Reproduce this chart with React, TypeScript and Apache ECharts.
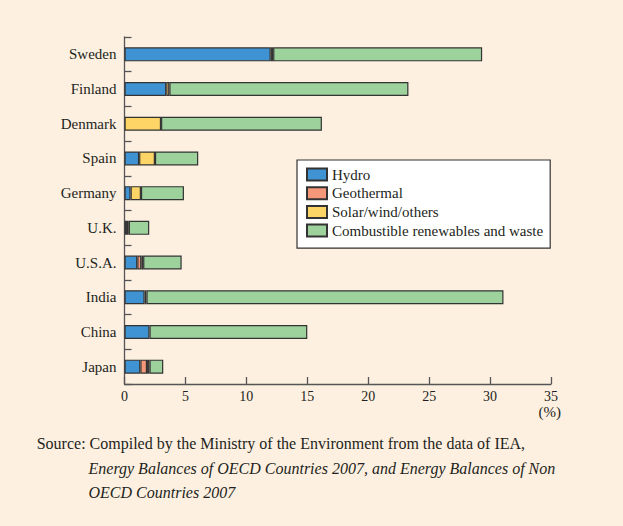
import React, { useEffect, useRef } from "react";
import * as echarts from "echarts";

const categories = ["Sweden", "Finland", "Denmark", "Spain", "Germany", "U.K.", "U.S.A.", "India", "China", "Japan"];
const hydro = [12.0, 3.43, 0, 1.2, 0.5, 0.2, 1.05, 1.65, 2.05, 1.3];
const geothermal = [0, 0, 0, 0, 0, 0, 0.33, 0, 0, 0.55];
const solarWind = [0.2, 0.25, 3.0, 1.3, 0.85, 0.15, 0.15, 0.15, 0, 0.2];
const combustible = [17.15, 19.62, 13.2, 3.55, 3.53, 1.68, 3.16, 29.3, 12.95, 1.13];
const seriesNames = ["Hydro", "Geothermal", "Solar/wind/others", "Combustible renewables and waste"];
const xTicks = { min: 0, max: 35, interval: 5 };
const unitLabel = "(%)";
const sourceLines = [
  "Source: Compiled by the Ministry of the Environment from the data of IEA,",
  "Energy Balances of OECD Countries 2007, and Energy Balances of Non",
  "OECD Countries 2007",
];

const colors = ["#4093d2", "#f5987a", "#fdd567", "#9dd29c"];
const FONT = "'Liberation Serif', 'Times New Roman', serif";
const TEXT = "#231f20";

export default function App() {
  const ref = useRef<HTMLDivElement>(null);
  useEffect(() => {
    if (!ref.current) return;
    const chart = echarts.init(ref.current, undefined, { renderer: "svg" });
    const datasets = [hydro, geothermal, solarWind, combustible];
    const series = datasets.map((d, i) => ({
      name: seriesNames[i],
      type: "bar",
      stack: "total",
      barWidth: 14,
      data: d.map((v) => (v === 0 ? "-" : v)),
      itemStyle: { color: colors[i], borderColor: "#333333", borderWidth: 1.2 },
      emphasis: { disabled: true },
    }));
    chart.setOption({
      animation: false,
      backgroundColor: "#fdf0e1",
      textStyle: { fontFamily: FONT },
      grid: { left: 124.5, top: 37, width: 426.5, height: 347, containLabel: false },
      legend: {
        orient: "vertical",
        left: 297,
        top: 160,
        padding: [7, 7, 10, 9],
        borderColor: "#333333",
        borderWidth: 1.2,
        backgroundColor: "#ffffff",
        itemWidth: 20,
        itemHeight: 12,
        itemGap: 3.7,
        icon: "rect",
        textStyle: { fontFamily: FONT, fontSize: 15, color: TEXT, padding: [0, 0, 0, 0] },
        data: seriesNames,
      },
      xAxis: {
        type: "value",
        min: xTicks.min,
        max: xTicks.max,
        interval: xTicks.interval,
        splitLine: { show: false },
        axisLine: { show: true, lineStyle: { color: "#555555", width: 1.3 } },
        axisTick: { show: true, inside: true, length: 7, lineStyle: { color: "#555555", width: 1.3 } },
        axisLabel: { fontFamily: FONT, fontSize: 14, color: TEXT, margin: 5 },
      },
      yAxis: {
        type: "category",
        data: categories,
        inverse: true,
        axisLine: { show: true, lineStyle: { color: "#555555", width: 1.3 } },
        axisTick: { show: true, inside: true, length: 7, lineStyle: { color: "#555555", width: 1.3 } },
        axisLabel: { fontFamily: FONT, fontSize: 15, color: TEXT, margin: 8 },
      },
      series,
      graphic: [
        {
          type: "text",
          right: 62,
          top: 404,
          style: { text: unitLabel, font: `15px ${FONT}`, fill: TEXT },
        },
        {
          type: "text",
          x: 36.7,
          y: 443.5,
          style: { text: sourceLines[0], font: `16px ${FONT}`, fill: TEXT, verticalAlign: "middle" },
        },
        {
          type: "text",
          x: 88.5,
          y: 468.5,
          style: { text: sourceLines[1], font: `italic 16px ${FONT}`, fill: TEXT, verticalAlign: "middle" },
        },
        {
          type: "text",
          x: 88.5,
          y: 492.5,
          style: { text: sourceLines[2], font: `italic 16px ${FONT}`, fill: TEXT, verticalAlign: "middle" },
        },
      ],
    });
    return () => chart.dispose();
  }, []);
  return (
    <div
      ref={ref}
      style={{ position: "absolute", left: 0, top: 0, width: 623, height: 526 }}
    />
  );
}
